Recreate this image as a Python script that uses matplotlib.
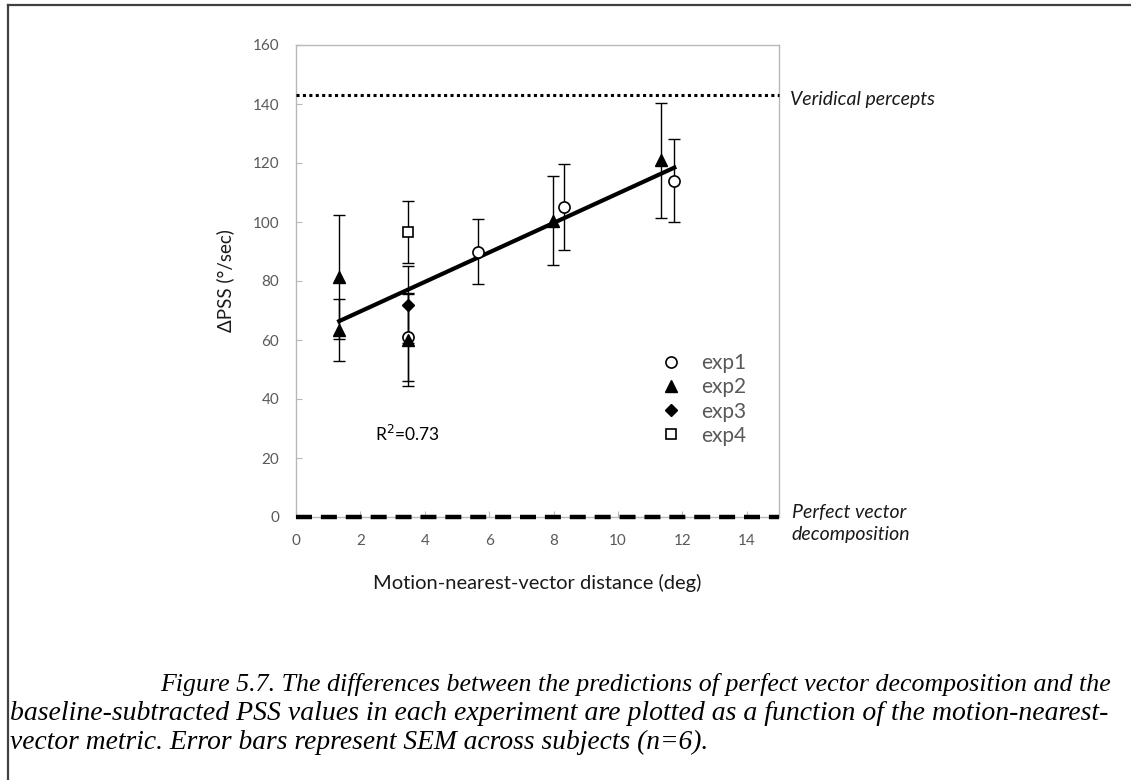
import numpy as np
import matplotlib
matplotlib.use("Agg")
import matplotlib.pyplot as plt
from matplotlib.lines import Line2D

# data
exp1_x = [3.49, 5.66, 8.33, 11.75]
exp1_y = [61.0, 90.0, 105.0, 114.0]
exp1_err = [15.0, 11.0, 14.5, 14.0]

exp2_x = [1.34, 1.34, 3.49, 7.97, 11.33]
exp2_y = [81.5, 63.5, 60.0, 100.5, 121.0]
exp2_err = [21.0, 10.5, 15.5, 15.0, 19.5]

exp3_x = [3.49]
exp3_y = [72.0]
exp3_err = [13.0]

exp4_x = [3.49]
exp4_y = [96.5]
exp4_err = [10.5]

veridical_level = 143
vector_level = 0
r2_text = "R$^2$=0.73"

xticks = [0, 2, 4, 6, 8, 10, 12, 14]
yticks = [0, 20, 40, 60, 80, 100, 120, 140, 160]

caption = [
    "Figure 5.7. The differences between the predictions of perfect vector decomposition and the",
    "baseline-subtracted PSS values in each experiment are plotted as a function of the motion-nearest-",
    "vector metric. Error bars represent SEM across subjects (n=6).",
]

plt.rcParams['font.family'] = ['Lato', 'DejaVu Sans']

W, H = 1131, 780
fig = plt.figure(figsize=(W / 100, H / 100), dpi=100)
fig.patch.set_facecolor('white')
ax = fig.add_axes([296 / W, (H - 517) / H, 483 / W, 472 / H])

# page frame (left and top border)
fig.add_artist(Line2D([8 / W, 8 / W], [0, 1 - 5 / H], color='#404040', lw=1.6))
fig.add_artist(Line2D([8 / W, 1], [1 - 5 / H, 1 - 5 / H], color='#404040', lw=1.6))

# reference lines
ax.axhline(veridical_level, color='black', lw=2.2, dashes=(1, 1.1), clip_on=False, zorder=3)
ax.axhline(vector_level, color='black', lw=3.2, dashes=(3.6, 2.0), clip_on=False, zorder=3)

# error bars
groups = [(exp1_x, exp1_y, exp1_err), (exp2_x, exp2_y, exp2_err),
          (exp3_x, exp3_y, exp3_err), (exp4_x, exp4_y, exp4_err)]
for gx, gy, ge in groups:
    ax.errorbar(gx, gy, yerr=ge, fmt='none', ecolor='black', elinewidth=1.0,
                capsize=4.3, capthick=1.0, zorder=4)

# linear fit through all points
all_x = np.array(exp1_x + exp2_x + exp3_x + exp4_x)
all_y = np.array(exp1_y + exp2_y + exp3_y + exp4_y)
slope, icpt = np.polyfit(all_x, all_y, 1)
fx = np.array([all_x.min(), all_x.max()])
ax.plot(fx, slope * fx + icpt, color='black', lw=3.0, zorder=5)

# markers
ms = 8
ax.plot(exp1_x, exp1_y, 'o', mfc='white', mec='black', mew=1.2, ms=ms, ls='none', label='exp1', zorder=6)
ax.plot(exp2_x, exp2_y, '^', color='black', ms=ms, ls='none', label='exp2', zorder=6)
ax.plot(exp3_x, exp3_y, 'D', color='black', ms=ms - 1.5, ls='none', label='exp3', zorder=6)
ax.plot(exp4_x, exp4_y, 's', mfc='white', mec='black', mew=1.2, ms=ms - 0.5, ls='none', label='exp4', zorder=6)

ax.set_xlim(0, 15)
ax.set_ylim(0, 160)
ax.set_xticks(xticks)
ax.set_yticks(yticks)
for sp in ax.spines.values():
    sp.set_color('#b8b8b8')
    sp.set_linewidth(1.0)
ax.tick_params(direction='in', length=4, color='#b8b8b8', labelsize=11, labelcolor='#595959')
ax.tick_params(axis='y', pad=12)
ax.tick_params(axis='x', pad=12)

ax.set_xlabel("Motion-nearest-vector distance (deg)", fontsize=14.5, color='#1a1a1a', labelpad=19)
ax.set_ylabel("ΔPSS (°/sec)", fontsize=13.5, color='#1a1a1a', labelpad=13)

ax.text(3.45, 28, r2_text, fontsize=12.5, color='black', ha='center', va='center')

leg = ax.legend(loc='upper left', bbox_to_anchor=(0.756, 0.347), frameon=False, fontsize=15,
                handlelength=0.9, handletextpad=1.0, labelspacing=0.2, borderpad=0, borderaxespad=0)
for t in leg.get_texts():
    t.set_color('#595959')

ax.text(15.35, 141.5, "Veridical percepts", fontsize=14, style='italic', color='#1a1a1a',
        ha='left', va='center', clip_on=False)
ax.text(15.4, -2.3, "Perfect vector\ndecomposition", fontsize=14, style='italic', color='#1a1a1a',
        ha='left', va='center', linespacing=1.35, clip_on=False)

# caption
cap_font = dict(family='Liberation Serif', style='italic', color='black', va='center')
fig.text(160 / W, 1 - 685 / H, caption[0], ha='left', fontsize=18.6, **cap_font)
fig.text(10 / W, 1 - 713 / H, caption[1], ha='left', fontsize=20, **cap_font)
fig.text(10 / W, 1 - 742 / H, caption[2], ha='left', fontsize=19.8, **cap_font)

fig.savefig("out.png", dpi=100)
